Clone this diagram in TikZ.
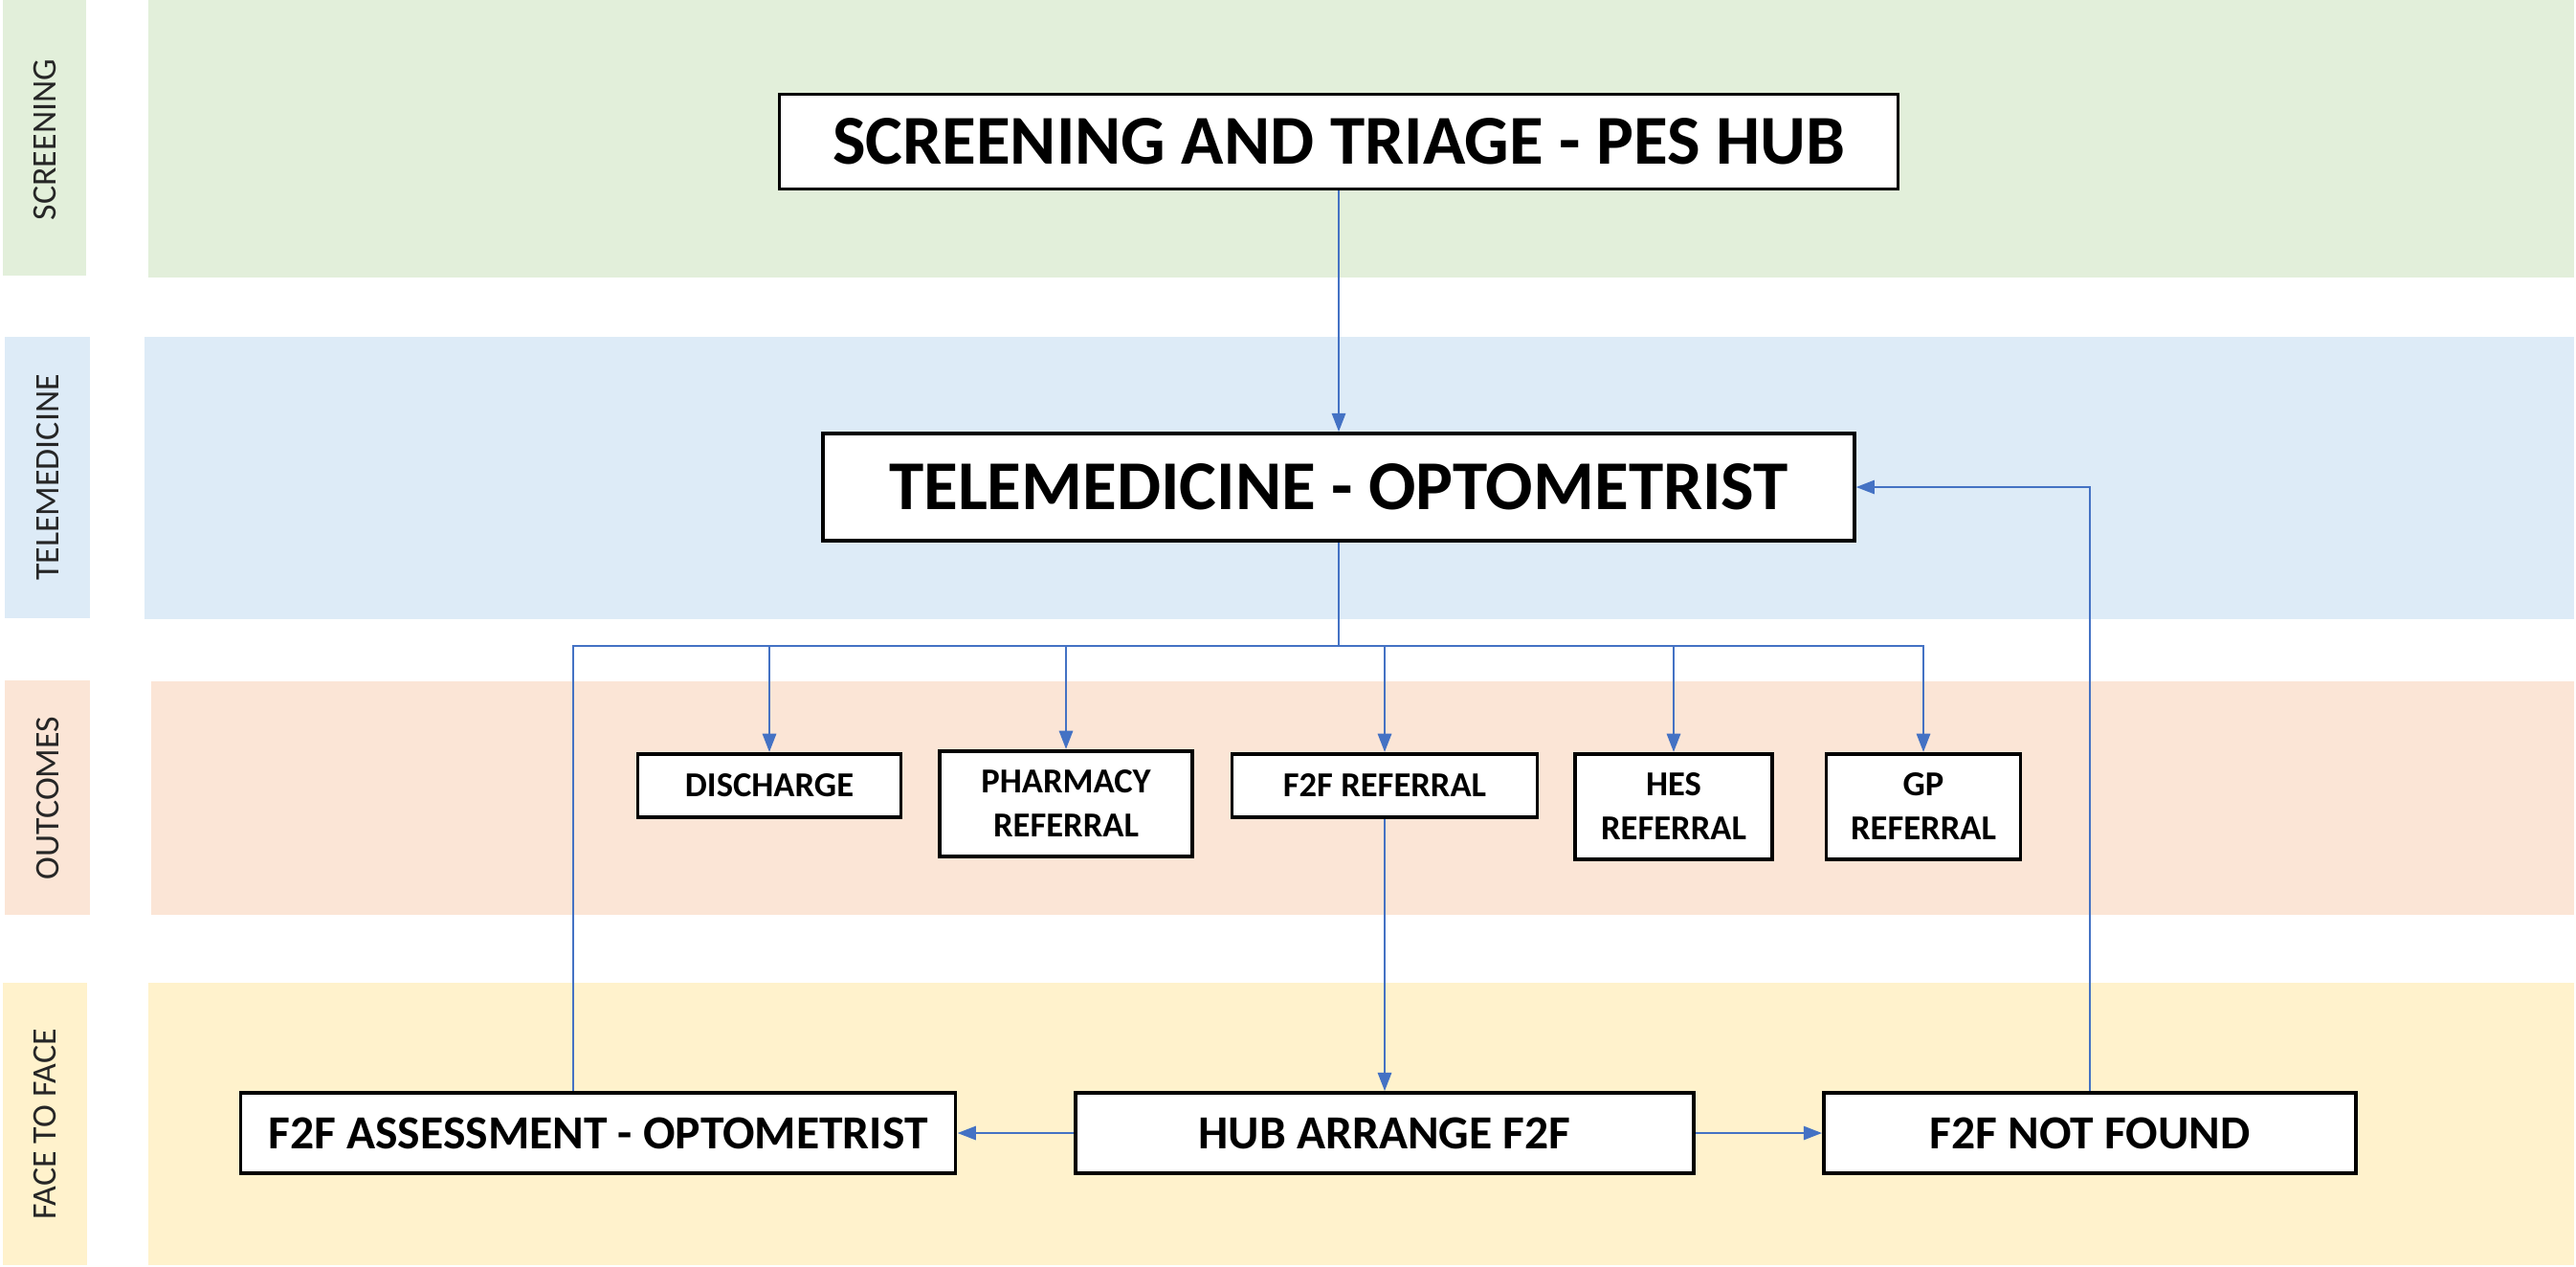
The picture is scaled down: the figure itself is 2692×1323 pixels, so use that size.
\documentclass[tikz,border=0pt]{standalone}
\usepackage{fontspec}
\setmainfont{Carlito}
\usetikzlibrary{arrows.meta,calc}
\definecolor{bgreen}{HTML}{E2EFDA}
\definecolor{bblue}{HTML}{DDEBF7}
\definecolor{bpeach}{HTML}{FBE5D6}
\definecolor{byellow}{HTML}{FFF2CC}
\definecolor{lineblue}{HTML}{4472C4}
\begin{document}
\begin{tikzpicture}[x=0.01cm,y=-0.01cm,
  box/.style={draw=black,line width=1pt,fill=white,inner sep=0pt,align=center},
  bigbox/.style={box,font=\fontsize{20.8}{25}\selectfont\bfseries},
  outbox/.style={box,anchor=north,font=\fontsize{10.4}{13.1}\selectfont\bfseries},
  lowbox/.style={box,font=\fontsize{14.1}{17}\selectfont\bfseries},
  sidelabel/.style={rotate=90,inner sep=0pt,font=\fontsize{10.2}{12}\selectfont,text=black!85},
  conn/.style={draw=lineblue,line width=0.8pt},
  arr/.style={conn,-{Triangle[length=5.5pt,width=4pt]}}]
\useasboundingbox (0,0) rectangle (2692,1323);
% bands
\fill[bgreen] (3,0) rectangle (90,288);
\fill[bgreen] (155,0) rectangle (2690,290);
\fill[bblue] (5,352) rectangle (94,646);
\fill[bblue] (151,352) rectangle (2690,647);
\fill[bpeach] (5,711) rectangle (94,956);
\fill[bpeach] (158,712) rectangle (2690,956);
\fill[byellow] (3,1027) rectangle (91,1322);
\fill[byellow] (155,1027) rectangle (2690,1322);
% side labels
\node[sidelabel] (lscr) at (47,146) {SCREENING};
\node[sidelabel] (ltel) at (50,499) {TELEMEDICINE};
\node[sidelabel] (lout) at (50,834) {OUTCOMES};
\node[sidelabel] (lf2f) at (47,1175) {FACE TO FACE};
% main nodes
\node[bigbox,minimum width=11.68cm,minimum height=0.99cm] (scr) at (1399,148) {SCREENING AND TRIAGE - PES HUB};
\node[bigbox,minimum width=10.77cm,minimum height=1.12cm] (tel) at (1399,509) {TELEMEDICINE - OPTOMETRIST};
% outcomes
\node[outbox,minimum width=2.75cm,minimum height=0.66cm] (dis) at (804,786) {DISCHARGE};
\node[outbox,minimum width=2.64cm,minimum height=1.10cm] (pha) at (1114,783) {PHARMACY\\REFERRAL};
\node[outbox,minimum width=3.19cm,minimum height=0.66cm] (ref) at (1447,786) {F2F REFERRAL};
\node[outbox,minimum width=2.06cm,minimum height=1.10cm] (hes) at (1749,786) {HES\\REFERRAL};
\node[outbox,minimum width=2.03cm,minimum height=1.10cm] (gp) at (2010,786) {GP\\REFERRAL};
% face to face
\node[lowbox,minimum width=7.47cm,minimum height=0.84cm] (ass) at (625,1184) {F2F ASSESSMENT - OPTOMETRIST};
\node[lowbox,minimum width=6.46cm,minimum height=0.84cm] (hub) at (1447,1184) {HUB ARRANGE F2F};
\node[lowbox,minimum width=5.56cm,minimum height=0.84cm] (nf) at (2184,1184) {F2F NOT FOUND};
% connectors
\coordinate (j) at (1399,675);
\draw[arr] (scr.south) -- (tel.north);
\draw[conn] (tel.south) -- (j);
\draw[arr] (j) -| (dis.north);
\draw[arr] (j) -| (pha.north);
\draw[arr] (j) -| (ref.north);
\draw[arr] (j) -| (hes.north);
\draw[arr] (j) -| (gp.north);
\coordinate (aup) at ($(ass.north)+(-26,0)$);
\draw[conn] (aup) |- (j);
\draw[arr] (ref.south) -- (hub.north);
\draw[arr] (hub.west) -- (ass.east);
\draw[arr] (hub.east) -- (nf.west);
\draw[arr] (nf.north) |- (tel.east);
\end{tikzpicture}
\end{document}
